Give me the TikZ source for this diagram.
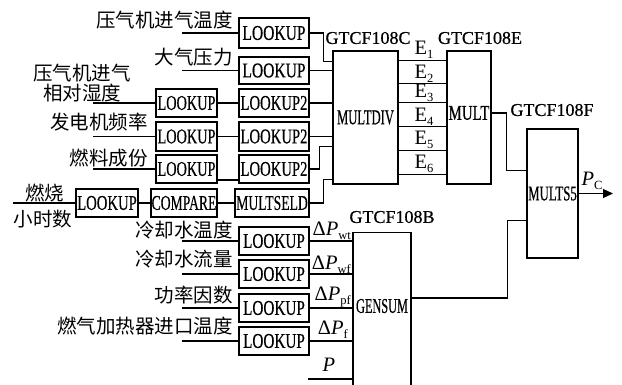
\documentclass[tikz,border=0pt]{standalone}
\usepackage{fontspec}
\setmainfont{Liberation Serif}
\newfontfamily\bx{Liberation Serif}[FakeBold=0.6]
\newfontfamily\cjk{Noto Sans CJK SC}
\usetikzlibrary{arrows.meta}
\newcommand\sqz[2]{\scalebox{#1}[1]{#2}}
\newcommand\sbs[1]{\raisebox{-0.45ex}{\fontsize{12.5}{12.5}\selectfont #1}}
\begin{document}
\begin{tikzpicture}[x=1pt,y=-1pt,
 blk/.style={draw, line width=1.2pt, inner sep=0pt, font=\bx\fontsize{21}{21}\selectfont},
 btxt/.style={inner sep=0pt, font=\bx\fontsize{21}{21}\selectfont},
 lbl/.style={inner sep=0pt, font=\bx\fontsize{18}{18}\selectfont},
 zh/.style={inner sep=0pt, font=\cjk\fontsize{19.5}{20}\selectfont},
 sym/.style={inner sep=0pt, font=\fontsize{20.5}{21}\selectfont},
 wire/.style={line width=1.2pt}]
\useasboundingbox (0,0) rectangle (622,384);
\clip (0,0) rectangle (622,384);

% ---------- upper blocks ----------
\node[blk,minimum width=70,minimum height=30] (t1) at (274,33) {\sqz{0.74}{LOOKUP}};
\node[blk,minimum width=70,minimum height=27] (t2) at (274,70.5) {\sqz{0.74}{LOOKUP}};
\node[blk,minimum width=61,minimum height=28] (r3a) at (186.5,103) {\sqz{0.68}{LOOKUP}};
\node[blk,minimum width=70,minimum height=28] (r3b) at (274,103) {\sqz{0.70}{LOOKUP2}};
\node[blk,minimum width=61,minimum height=29] (r4a) at (186.5,136.5) {\sqz{0.68}{LOOKUP}};
\node[blk,minimum width=70,minimum height=29] (r4b) at (274,136.5) {\sqz{0.70}{LOOKUP2}};
\node[blk,minimum width=61,minimum height=28] (r5a) at (186.5,169) {\sqz{0.68}{LOOKUP}};
\node[blk,minimum width=70,minimum height=28] (r5b) at (274,169) {\sqz{0.70}{LOOKUP2}};
\node[blk,minimum width=62,minimum height=28] (r6a) at (107,203) {\sqz{0.70}{LOOKUP}};
\node[blk,minimum width=66,minimum height=28] (r6b) at (184,203) {\sqz{0.65}{COMPARE}};
\node[blk,minimum width=74,minimum height=28] (r6c) at (272,203) {\sqz{0.65}{MULTSELD}};

\node[blk,minimum width=65,minimum height=133] (md) at (365.5,117.5) {\sqz{0.60}{MULTDIV}};
\node[blk,minimum width=44,minimum height=133] (mu) at (469,117.5) {};
\node[btxt] (mut) at (469,113) {\sqz{0.71}{MULT}};
\node[blk,minimum width=51,minimum height=129] (ms) at (552.5,193.5) {\sqz{0.61}{MULTS5}};

% ---------- lower blocks ----------
\node[blk,minimum width=70,minimum height=28] (b1) at (274,241) {\sqz{0.725}{LOOKUP}};
\node[blk,minimum width=70,minimum height=28] (b2) at (274,274) {\sqz{0.725}{LOOKUP}};
\node[blk,minimum width=70,minimum height=28] (b3) at (274,308) {\sqz{0.725}{LOOKUP}};
\node[blk,minimum width=70,minimum height=28] (b4) at (274,341) {\sqz{0.725}{LOOKUP}};
\node[blk,minimum width=58,minimum height=170,anchor=north] (gs) at (382,232) {};
\node[btxt] (gst) at (382,306) {\sqz{0.585}{GENSUM}};

% ---------- block labels ----------
\node[lbl] (lc) at (368,38) {GTCF108C};
\node[lbl] (le) at (480,38) {GTCF108E};
\node[lbl] (lf) at (552,110) {GTCF108F};
\node[lbl] (lb) at (392,217) {GTCF108B};

% ---------- Chinese input labels ----------
\node[zh,anchor=east] (z1) at (233,20) {压气机进气温度};
\node[zh,anchor=east] (z2) at (233,57) {大气压力};
\node[zh] (z3a) at (82,73) {压气机进气};
\node[zh] (z3b) at (82,93) {相对湿度};
\node[zh,anchor=east] (z4) at (148,122) {发电机频率};
\node[zh,anchor=east] (z5) at (148,158) {燃料成份};
\node[zh] (z6a) at (45,193) {燃烧};
\node[zh] (z6b) at (43,219) {小时数};
\node[zh,anchor=east] (zb1) at (233,230) {冷却水温度};
\node[zh,anchor=east] (zb2) at (233,259) {冷却水流量};
\node[zh,anchor=east] (zb3) at (233,295) {功率因数};
\node[zh,anchor=east] (zb4) at (233,326) {燃气加热器进口温度};

% ---------- input wires ----------
\coordinate (i1) at (182,33);
\coordinate (i2) at (182,70.5);
\coordinate (i3) at (93,103);
\coordinate (i4) at (93,136.5);
\coordinate (i5) at (93,169);
\coordinate (i6) at (13,203);
\coordinate (ib1) at (182,241);
\coordinate (ib2) at (182,274);
\coordinate (ib3) at (182,308);
\coordinate (ib4) at (182,341);
\coordinate (ip) at (308,379);
\coordinate (y180) at (0,180);

\draw[wire] (i1) -- (t1.west);
\draw[wire] (i2) -- (t2.west);
\draw[wire] (i3) -- (r3a.west);
\draw[wire] (i4) -- (r4a.west);
\draw[wire] (i5) -- (r5a.west);
\draw[wire] (i6) -- (r6a.west);
\draw[wire] (ib1) -- (b1.west);
\draw[wire] (ib2) -- (b2.west);
\draw[wire] (ib3) -- (b3.west);
\draw[wire] (ib4) -- (b4.west);

% ---------- internal wires ----------
\draw[wire] (r3a.east) -- (r3b.west);
\draw[wire] (r4a.east) -- (r4b.west);
\draw[wire] (r5a.east |- y180) -- (r5b.west |- y180);
\draw[wire] (r6a.east) -- (r6b.west);
\draw[wire] (r6b.east) -- (r6c.west);

\draw[wire] (t1.east) -- ++(14,0) |- ([yshift=-11pt]md.north west);
\draw[wire] (t2.east) -- (t2.east -| md.west);
\draw[wire] (r3b.east) -- (r3b.east -| md.west);
\draw[wire] (r4b.east) -- (r4b.east -| md.west);
\draw[wire] (r5b.east) -- ++(10,0) |- ([yshift=-96pt]md.north west);
\draw[wire] (r6c.east) -- ++(14,0) |- ([yshift=5pt]md.south west);

\foreach \d in {10,33,52,76,100,124}
  \draw[wire] ([yshift=-\d pt]md.north east) -- ([yshift=-\d pt]mu.north west);
\node[sym] (e1) at (424,50) {E\sbs{1}};
\node[sym] (e2) at (424,74) {E\sbs{2}};
\node[sym] (e3) at (424,93) {E\sbs{3}};
\node[sym] (e4) at (424,117) {E\sbs{4}};
\node[sym] (e5) at (424,140) {E\sbs{5}};
\node[sym] (e6) at (424,164) {E\sbs{6}};

\draw[wire] ([yshift=4.5pt]mu.east) -- ++(15,0) |- ([yshift=-42pt]ms.north west);
\draw[wire] ([yshift=-66pt]gs.north east) -- ++(96,0) |- ([yshift=-92pt]ms.north west);

\draw[wire] (b1.east) -- (b1.east -| gs.west);
\draw[wire] (b2.east) -- (b2.east -| gs.west);
\draw[wire] (b3.east) -- (b3.east -| gs.west);
\draw[wire] (b4.east) -- (b4.east -| gs.west);
\draw[wire] (ip) -- (ip -| gs.west);

\node[sym,anchor=east] (d1) at (351,231) {Δ\textit{P}\sbs{wt}};
\node[sym,anchor=east] (d2) at (351,265) {Δ\textit{P}\sbs{wf}};
\node[sym,anchor=east] (d3) at (351,297) {Δ\textit{P}\sbs{pf}};
\node[sym,anchor=east] (d4) at (348,330) {Δ\textit{P}\sbs{f}};
\node[sym] (pp) at (329,365) {\textit{P}};

\coordinate (out) at (613,193.5);
\draw[wire,-{Triangle[length=10pt,width=9pt]}] (ms.east) -- (out);
\node[sym] (pc) at (592,181) {\textit{P}\sbs{C}};
\end{tikzpicture}
\end{document}
